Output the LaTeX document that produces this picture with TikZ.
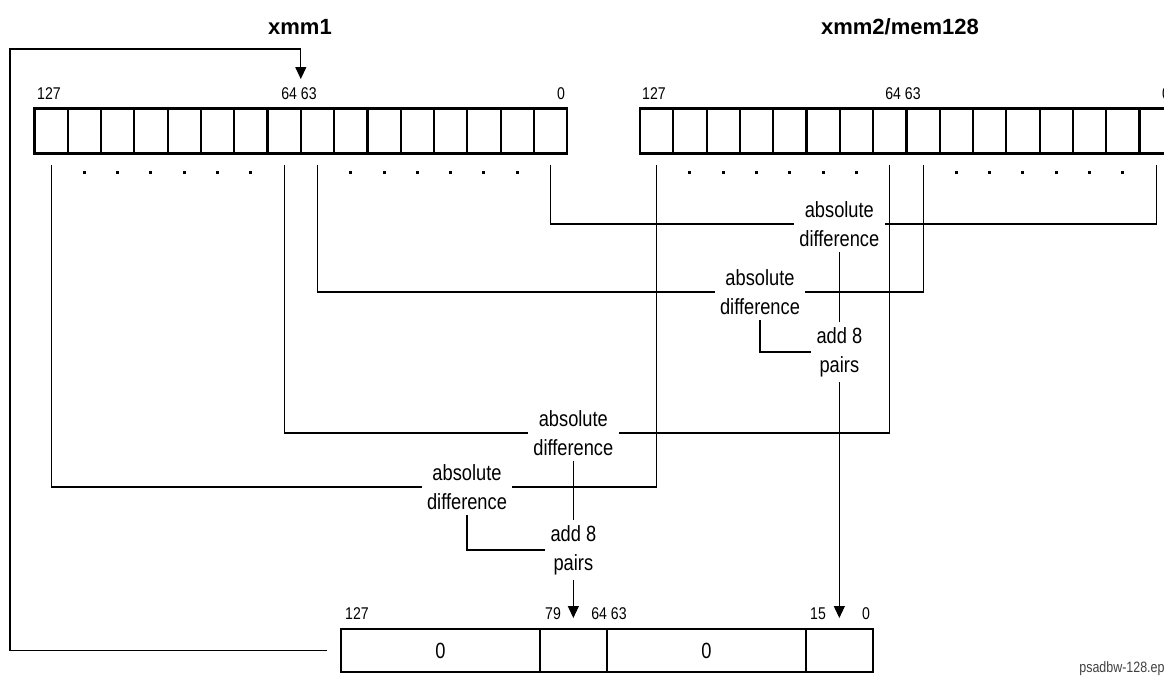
\documentclass[tikz,border=0pt]{standalone}
\usepackage{fontspec}
\setmainfont{Liberation Sans}[FakeStretch=0.83]
\newfontfamily\headfont{Liberation Sans}
\usetikzlibrary{arrows.meta}

\begin{document}
\begin{tikzpicture}[x=0.5pt, y=-0.5pt,
  every node/.style={font=\fontsize{11}{14.5}\selectfont},
  cell/.style={draw,line width=1.1pt,minimum width=16.65pt,minimum height=22.5pt,inner sep=0pt,outer sep=0pt},
  slot/.style={draw,line width=1.1pt,minimum height=21.5pt,inner sep=0pt,outer sep=0pt},
  op/.style={align=center,inner sep=2.5pt},
  bitno/.style={font=\fontsize{8.5}{10}\selectfont,inner sep=0pt},
  wire/.style={line width=0.55pt},
  tip/.style={-{Triangle[width=5.5pt,length=6pt]}}]
\useasboundingbox (0,0) rectangle (1164,677);
\clip (0,0) rectangle (1164,677);

% source registers
\node[font=\headfont\fontsize{11}{13}\selectfont\bfseries] (xa) at (300,27) {xmm1};
\node[font=\headfont\fontsize{11}{13}\selectfont\bfseries] (xb) at (900,27) {xmm2/mem128};
\foreach \i in {0,...,15}{
  \node[cell] (L\i) at ({51.05+33.3*\i},131) {};
  \node[cell] (R\i) at ({656.65+33.3*\i},131) {};
  \coordinate (Lt\i) at ({51.05+33.3*\i},165);
  \coordinate (Rt\i) at ({656.65+33.3*\i},165);
}
\foreach \i in {1,...,6,9,10,...,14}{
  \fill ({49.55+33.3*\i},170.5) rectangle ++(3,3);
  \fill ({655.15+33.3*\i},170.5) rectangle ++(3,3);
}
\node[bitno] (la127) at (49,94) {127};
\node[bitno] (la64) at (299,94) {64 63};
\node[bitno] (la0) at (561,94) {0};
\node[bitno] (lb127) at (654,94) {127};
\node[bitno] (lb64) at (903,94) {64 63};
\node[bitno] (lb0) at (1166,94) {0};

% destination
\node[slot,minimum width=99.75pt] (B0) at (440.35,650.5) {0};
\node[slot,minimum width=33.25pt] (B1) at (573.35,650.5) {};
\node[slot,minimum width=99.75pt] (B2) at (706.35,650.5) {0};
\node[slot,minimum width=33.25pt] (B3) at (839.35,650.5) {};
\node[bitno] (lc127) at (357,614) {127};
\node[bitno] (lc79) at (553,614) {79};
\node[bitno] (lc64) at (609,614) {64 63};
\node[bitno] (lc15) at (818,614) {15};
\node[bitno] (lc0) at (866,614) {0};

% operations
\node[op] (ad1) at (839.35,224) {absolute\\difference};
\node[op] (ad2) at (760,292) {absolute\\difference};
\node[op] (ap1) at (839.35,352) {add 8\\pairs};
\node[op] (ad3) at (573.35,433) {absolute\\difference};
\node[op] (ad4) at (467,487) {absolute\\difference};
\node[op] (ap2) at (573.35,550) {add 8\\pairs};

\draw[wire] (Lt15) |- (ad1);
\draw[wire] (Rt15) |- (ad1);
\draw[wire] (Lt8) |- (ad2);
\draw[wire] (Rt8) |- (ad2);
\draw[wire] (Lt7) |- (ad3);
\draw[wire] (Rt7) |- (ad3);
\draw[wire] (Lt0) |- (ad4);
\draw[wire] (Rt0) |- (ad4);
\draw[wire] (ad1) -- (ap1);
\draw[wire] (ad2) |- (ap1);
\draw[wire] (ad3) -- (ap2);
\draw[wire] (ad4) |- (ap2);
\draw[wire,tip,shorten >=5.5pt] (ap1) -- (B3);
\draw[wire,tip,shorten >=5.5pt] (ap2) -- (B1);

% result back into xmm1
\coordinate (lp) at (10,49);
\draw[wire,tip,shorten <=7pt,shorten >=14.75pt] (B0.west) -| (lp) -| (L7.north east);

\node[font=\fontsize{7.5}{9}\selectfont,text=black!75,anchor=west,inner sep=0pt] (fname) at (1079,669) {psadbw-128.eps};
\end{tikzpicture}
\end{document}
